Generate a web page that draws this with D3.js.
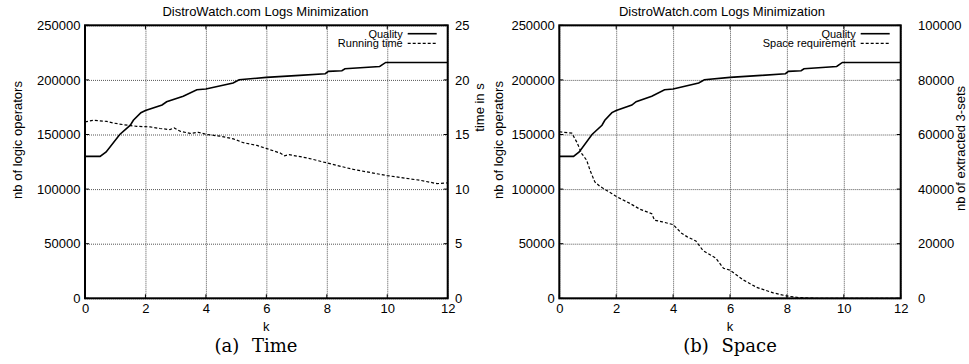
<!DOCTYPE html>
<html>
<head>
<meta charset="utf-8">
<script src="https://cdn.jsdelivr.net/npm/d3@7"></script>
<style>
body { margin: 0; background: #fff; }
text { font-family: "Liberation Sans", Arial, Helvetica, sans-serif; fill: #000; }
</style>
</head>
<body>
<svg id="chart" width="969" height="364"></svg>
<script>
// tick labels
var kTicks = [0, 2, 4, 6, 8, 10, 12];
var opTicks = [0, 50000, 100000, 150000, 200000, 250000];
var timeTicks = [0, 5, 10, 15, 20, 25];
var setTicks = [0, 20000, 40000, 60000, 80000, 100000];

// Quality (nb of logic operators), same run in both panels
var qualityK = [0, 0.5, 0.7, 1.15, 1.5, 1.6, 1.85, 2.0, 2.55, 2.7, 3.25, 3.7, 4.0, 4.9, 5.1, 6.0, 7.1, 7.95, 8.05, 8.5, 8.6, 9.75, 9.95, 12];
var quality = [130000, 130000, 134000, 150000, 158500, 163000, 170000, 172000, 177000, 180000, 185000, 191000, 191700, 197200, 200200, 202300, 204100, 205700, 207800, 208400, 210200, 212300, 216000, 216000];

// Running time in s
var timeK = [0, 0.27, 0.72, 0.94, 1.27, 1.71, 2.15, 2.48, 2.81, 2.95, 3.15, 3.48, 3.75, 4.03, 4.47, 4.91, 5.24, 5.69, 6.13, 6.46, 6.6, 6.75, 7.34, 8.0, 8.88, 9.99, 11.1, 11.65, 12];
var runningTime = [16.15, 16.3, 16.2, 16.05, 15.9, 15.75, 15.7, 15.55, 15.45, 15.6, 15.3, 15.1, 15.2, 15.0, 14.85, 14.6, 14.25, 14.0, 13.6, 13.3, 13.05, 13.15, 12.86, 12.4, 11.8, 11.24, 10.8, 10.5, 10.57];

// Space requirement (nb of extracted 3-sets)
var spaceK = [0, 0.44, 0.61, 0.79, 0.96, 1.08, 1.25, 1.43, 1.84, 2.02, 2.49, 2.84, 3.25, 3.35, 3.62, 4.0, 4.3, 4.5, 4.8, 5.05, 5.5, 5.77, 6.0, 6.47, 6.94, 7.52, 7.99, 8.46, 9.05, 12];
var spaceReq = [61000, 60500, 57300, 53000, 50600, 46900, 42600, 41000, 38400, 37200, 34700, 32600, 31000, 28600, 28000, 27000, 23800, 22500, 21000, 17500, 14700, 11000, 10300, 6700, 4000, 2000, 850, 220, 0, 0];

var svg = d3.select("#chart");
var plotTop = 25.3, plotBottom = 298.3;

function panel(p) {
    var g = svg.append("g");
    var x = d3.scaleLinear().domain([0, 12]).range([p.x0, p.x1]);
    var y = d3.scaleLinear().domain([0, 250000]).range([plotBottom, plotTop]);
    var y2 = d3.scaleLinear().domain([0, p.y2Max]).range([plotBottom, plotTop]);

    // dotted grid
    g.append("g").attr("transform", "translate(0," + plotBottom + ")")
        .call(d3.axisBottom(x).tickValues(kTicks).tickSize(-(plotBottom - plotTop)).tickFormat(""))
        .call(a => a.select(".domain").remove())
        .selectAll("line").attr("stroke", "#555").attr("stroke-dasharray", "1,1");
    g.append("g").attr("transform", "translate(" + p.x0 + ",0)")
        .call(d3.axisLeft(y).tickValues(opTicks).tickSize(-(p.x1 - p.x0)).tickFormat(""))
        .call(a => a.select(".domain").remove())
        .selectAll("line").attr("stroke", "#555").attr("stroke-dasharray", "1,1");

    // small inner ticks on the frame
    g.selectAll(".xt").data(kTicks).join("line")
        .attr("x1", d => x(d)).attr("x2", d => x(d))
        .attr("y1", plotBottom).attr("y2", plotBottom - 4).attr("stroke", "#000");
    g.selectAll(".xt2").data(kTicks).join("line")
        .attr("x1", d => x(d)).attr("x2", d => x(d))
        .attr("y1", plotTop).attr("y2", plotTop + 4).attr("stroke", "#000");
    g.selectAll(".yt").data(opTicks).join("line")
        .attr("x1", p.x0).attr("x2", p.x0 + 4)
        .attr("y1", d => y(d)).attr("y2", d => y(d)).attr("stroke", "#000");
    g.selectAll(".yt2").data(p.y2Ticks).join("line")
        .attr("x1", p.x1).attr("x2", p.x1 - 4)
        .attr("y1", d => y2(d)).attr("y2", d => y2(d)).attr("stroke", "#000");

    // tick labels
    var xl = g.append("g").attr("transform", "translate(0," + plotBottom + ")")
        .call(d3.axisBottom(x).tickValues(kTicks).tickSize(0).tickPadding(5.5).tickFormat(d3.format("d")));
    var yl = g.append("g").attr("transform", "translate(" + p.x0 + ",0)")
        .call(d3.axisLeft(y).tickValues(opTicks).tickSize(0).tickPadding(4.5).tickFormat(d3.format("d")));
    var y2l = g.append("g").attr("transform", "translate(" + p.x1 + ",0)")
        .call(d3.axisRight(y2).tickValues(p.y2Ticks).tickSize(0).tickPadding(p.pad2).tickFormat(d3.format("d")));
    [xl, yl, y2l].forEach(function (a) {
        a.select(".domain").remove();
        a.attr("font-family", null).attr("font-size", 13);
    });

    // series
    var line = d3.line().x(d => x(d[0]));
    g.append("path")
        .datum(d3.zip(qualityK, quality))
        .attr("fill", "none").attr("stroke", "#000").attr("stroke-width", 1.6)
        .attr("d", line.y(d => y(d[1])));
    g.append("path")
        .datum(d3.zip(p.k2, p.v2))
        .attr("fill", "none").attr("stroke", "#000").attr("stroke-width", 1.2)
        .attr("stroke-dasharray", "3,2")
        .attr("d", line.y(d => y2(d[1])));

    // frame
    g.append("rect")
        .attr("x", p.x0).attr("y", plotTop)
        .attr("width", p.x1 - p.x0).attr("height", plotBottom - plotTop)
        .attr("fill", "none").attr("stroke", "#000").attr("stroke-width", 2);

    // title and axis labels
    g.append("text").attr("x", p.titleX).attr("y", 15.5)
        .attr("text-anchor", "middle").attr("font-size", 13)
        .text("DistroWatch.com Logs Minimization");
    g.append("text").attr("x", (p.x0 + p.x1) / 2).attr("y", 331)
        .attr("text-anchor", "middle").attr("font-size", 13).text("k");
    g.append("text")
        .attr("transform", "translate(" + p.yLabelX + ",140) rotate(-90)")
        .attr("text-anchor", "middle").attr("font-size", 13)
        .text("nb of logic operators");
    g.append("text")
        .attr("transform", "translate(" + p.y2LabelX + "," + p.y2LabelY + ") rotate(-90)")
        .attr("text-anchor", "middle").attr("font-size", 13)
        .text(p.y2Label);

    // legend
    g.append("text").attr("x", p.x1 - 45).attr("y", 37.5)
        .attr("text-anchor", "end").attr("font-size", 11).text("Quality");
    g.append("line").attr("x1", p.x1 - 40).attr("x2", p.x1 - 11)
        .attr("y1", 33.7).attr("y2", 33.7)
        .attr("stroke", "#000").attr("stroke-width", 1.6);
    g.append("text").attr("x", p.x1 - 45).attr("y", 47)
        .attr("text-anchor", "end").attr("font-size", 11).text(p.name2);
    g.append("line").attr("x1", p.x1 - 40).attr("x2", p.x1 - 11)
        .attr("y1", 43.3).attr("y2", 43.3)
        .attr("stroke", "#000").attr("stroke-width", 1.2).attr("stroke-dasharray", "3,2");

    // caption
    g.append("text").attr("x", p.capX).attr("y", 352)
        .attr("text-anchor", "middle")
        .style("font-family", "'DejaVu Serif', serif")
        .attr("font-size", 18).attr("word-spacing", 7)
        .text(p.caption);
}

panel({
    x0: 85, x1: 447.7, y2Max: 25, y2Ticks: timeTicks, pad2: 7.3,
    k2: timeK, v2: runningTime, name2: "Running time",
    titleX: 265.5, yLabelX: 22, y2LabelX: 484, y2LabelY: 107.5, y2Label: "time in s",
    capX: 256, caption: "(a) Time"
});

panel({
    x0: 559.3, x1: 900.7, y2Max: 100000, y2Ticks: setTicks, pad2: 17.3,
    k2: spaceK, v2: spaceReq, name2: "Space requirement",
    titleX: 722, yLabelX: 503, y2LabelX: 965, y2LabelY: 148.5, y2Label: "nb of extracted 3-sets",
    capX: 730, caption: "(b) Space"
});
</script>
</body>
</html>
